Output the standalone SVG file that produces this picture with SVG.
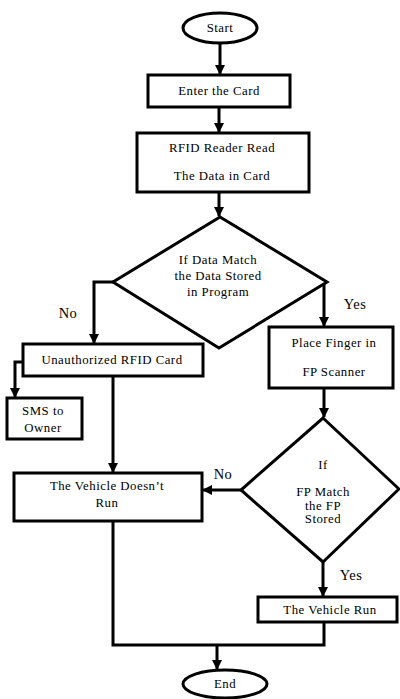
<svg xmlns="http://www.w3.org/2000/svg" width="400" height="699" viewBox="0 0 400 699">
<style>
.s{fill:#fff;stroke:#000;stroke-width:3}
.t{font-family:'Liberation Serif','DejaVu Serif',serif;font-size:12.8px;letter-spacing:0.5px;fill:#000;text-anchor:middle;dominant-baseline:central}
.l{font-family:'Liberation Serif','DejaVu Serif',serif;font-size:14.5px;letter-spacing:0.5px;fill:#000;text-anchor:middle;dominant-baseline:central}
.c{fill:none;stroke:#000;stroke-width:3}
</style>
<defs>
<marker id="a" markerWidth="10" markerHeight="10" refX="9" refY="5" orient="auto" markerUnits="userSpaceOnUse">
<path d="M0,0 L10,5 L0,10 z" fill="#000"/>
</marker>
</defs>
<rect width="400" height="699" fill="#fff"/>
<g id="connectors">
<path class="c" d="M220,43 V74" marker-end="url(#a)"/>
<path class="c" d="M219,107 V132" marker-end="url(#a)"/>
<path class="c" d="M219,192 V216" marker-end="url(#a)"/>
<path class="c" d="M113,282 H94 V343" marker-end="url(#a)"/>
<path class="c" d="M327,282 H324 V326" marker-end="url(#a)"/>
<path class="c" d="M23,362 H15 V397" marker-end="url(#a)"/>
<path class="c" d="M113,376 V472" marker-end="url(#a)"/>
<path class="c" d="M324,388 V417" marker-end="url(#a)"/>
<path class="c" d="M241,490 H203" marker-end="url(#a)"/>
<path class="c" d="M323,562 V596" marker-end="url(#a)"/>
<path class="c" d="M113,521 V645 H324 V622"/>
<path class="c" d="M217,645 V669" marker-end="url(#a)"/>
</g>
<g id="start"><ellipse class="s" cx="220" cy="28" rx="37" ry="15"/><text class="t" x="220" y="28">Start</text></g>
<g id="enter"><rect class="s" x="148" y="75" width="142" height="32"/><text class="t" x="219" y="91">Enter the Card</text></g>
<g id="rfid"><rect class="s" x="137" y="133" width="172" height="59"/><text class="t" x="222" y="148">RFID Reader Read</text><text class="t" x="222" y="176">The Data in Card</text></g>
<g id="match1"><polygon class="s" points="220,217 327,282 219,348 113,282"/><text class="t" x="218" y="260">If Data Match</text><text class="t" x="218" y="276">the Data Stored</text><text class="t" x="218" y="292">in Program</text></g>
<g id="unauth"><rect class="s" x="23" y="344" width="180" height="32"/><text class="t" x="112" y="360">Unauthorized RFID Card</text></g>
<g id="sms"><rect class="s" x="7" y="398" width="75" height="41"/><text class="t" x="43" y="411">SMS to</text><text class="t" x="43" y="428">Owner</text></g>
<g id="finger"><rect class="s" x="269" y="327" width="124" height="61"/><text class="t" x="334" y="343">Place Finger in</text><text class="t" x="334" y="372">FP Scanner</text></g>
<g id="match2"><polygon class="s" points="323,418 399,489 323,562 241,490"/><text class="t" x="323" y="465">If</text><text class="t" x="323" y="492">FP Match</text><text class="t" x="323" y="506">the FP</text><text class="t" x="323" y="519">Stored</text></g>
<g id="norun"><rect class="s" x="14" y="473" width="188" height="48"/><text class="t" x="107" y="486">The Vehicle Doesn’t</text><text class="t" x="107" y="503">Run</text></g>
<g id="run"><rect class="s" x="258" y="597" width="139" height="25"/><text class="t" x="330" y="610">The Vehicle Run</text></g>
<g id="end"><ellipse class="s" cx="225" cy="684" rx="42" ry="14"/><text class="t" x="225" y="684">End</text></g>
<g id="labels"><text class="l" x="68" y="313">No</text><text class="l" x="355" y="304">Yes</text><text class="l" x="223" y="474">No</text><text class="l" x="351" y="575">Yes</text></g>
</svg>
